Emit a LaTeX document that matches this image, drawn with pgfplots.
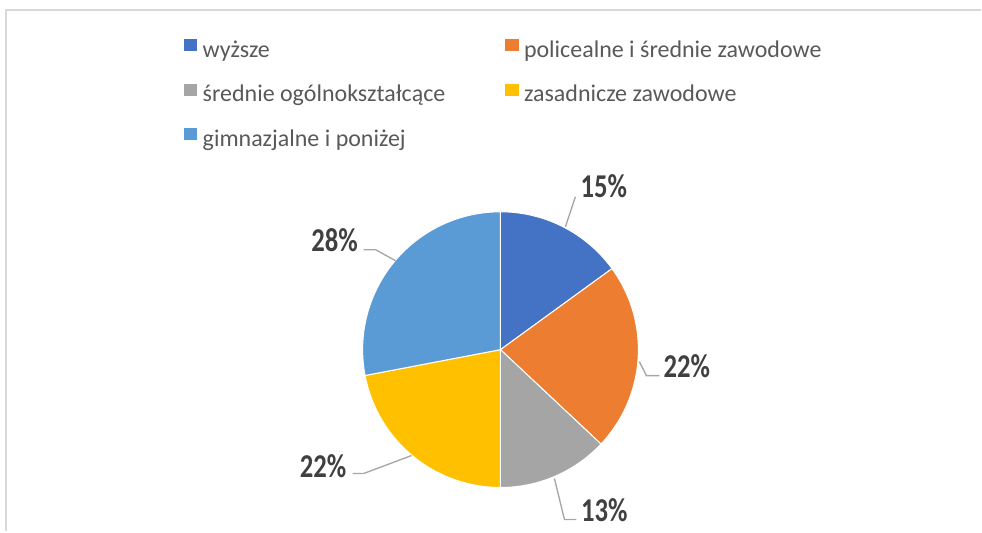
\documentclass[border=0pt]{standalone}
\usepackage{pgfplots}
\usepackage{pgfplotstable}
\pgfplotsset{compat=1.18}
\usepackage{fontspec}
\setmainfont{Carlito}

\definecolor{cWyz}{HTML}{4472C4}
\definecolor{cPol}{HTML}{ED7D31}
\definecolor{cSre}{HTML}{A5A5A5}
\definecolor{cZas}{HTML}{FFC000}
\definecolor{cGim}{HTML}{5B9BD5}
\definecolor{txtgray}{HTML}{595959}
\definecolor{lblgray}{HTML}{404040}
\definecolor{leader}{HTML}{A6A6A6}
\definecolor{framegray}{HTML}{D9D9D9}

% shares in percent, clockwise from 12 o'clock
\pgfplotstableread{
share
15
22
13
22
28
}\shares

\begin{document}
\begin{tikzpicture}
\pgfplotstablegetelem{0}{share}\of\shares \let\sA\pgfplotsretval
\pgfplotstablegetelem{1}{share}\of\shares \let\sB\pgfplotsretval
\pgfplotstablegetelem{2}{share}\of\shares \let\sC\pgfplotsretval
\pgfplotstablegetelem{3}{share}\of\shares \let\sD\pgfplotsretval
\pgfplotstablegetelem{4}{share}\of\shares \let\sE\pgfplotsretval
\pgfmathsetmacro\aA{90}
\pgfmathsetmacro\aB{\aA-3.6*\sA}
\pgfmathsetmacro\aC{\aB-3.6*\sB}
\pgfmathsetmacro\aD{\aC-3.6*\sC}
\pgfmathsetmacro\aE{\aD-3.6*\sD}
\pgfmathsetmacro\aF{\aE-3.6*\sE}
\def\cx{501}\def\cy{182}\def\r{138}
\begin{axis}[
    x=0.75pt, y=0.75pt,
    xmin=0, xmax=982, ymin=0, ymax=532,
    hide axis, clip=false,
    /pgf/number format/assume math mode=true,
    legend columns=2,
    legend image code/.code={\fill[#1,draw=none] (0pt,0pt) rectangle (10pt,9pt);},
    legend style={at={(axis cs:184,493)}, anchor=north west, draw=none, fill=none,
        inner sep=0pt, row sep=16pt,
        font=\fontsize{18}{20}\selectfont, text=txtgray,
        nodes={inner sep=0pt, text height=13pt, text depth=4pt},
        /tikz/every odd column/.append style={column sep=4pt},
        /tikz/every even column/.append style={column sep=45pt}},
    legend cell align=left,
    every axis plot/.append style={draw=white, line width=0.75pt, samples=80, variable=\t},
]
\path (axis cs:0,0) rectangle (axis cs:982,532);
\draw[framegray, line width=1.5pt] (axis cs:6.5,0) -- (axis cs:6.5,521.5) -- (axis cs:982,521.5);

\addplot[fill=cWyz, domain=\aB:\aA] ({\cx+\r*cos(\t)},{\cy+\r*sin(\t)}) -- (axis cs:\cx,\cy) -- cycle;
\addlegendentry{wyższe}
\addplot[fill=cPol, domain=\aC:\aB] ({\cx+\r*cos(\t)},{\cy+\r*sin(\t)}) -- (axis cs:\cx,\cy) -- cycle;
\addlegendentry{policealne i średnie zawodowe}
\addplot[fill=cSre, domain=\aD:\aC] ({\cx+\r*cos(\t)},{\cy+\r*sin(\t)}) -- (axis cs:\cx,\cy) -- cycle;
\addlegendentry{średnie ogólnokształcące}
\addplot[fill=cZas, domain=\aE:\aD] ({\cx+\r*cos(\t)},{\cy+\r*sin(\t)}) -- (axis cs:\cx,\cy) -- cycle;
\addlegendentry{zasadnicze zawodowe}
\addplot[fill=cGim, domain=\aF:\aE] ({\cx+\r*cos(\t)},{\cy+\r*sin(\t)}) -- (axis cs:\cx,\cy) -- cycle;
\addlegendentry{gimnazjalne i poniżej}

% leader lines
\draw[leader, line width=1pt] (axis cs:566,305) -- (axis cs:576,335);
\draw[leader, line width=1pt] (axis cs:640,170) -- (axis cs:647,156) -- (axis cs:660,156);
\draw[leader, line width=1pt] (axis cs:555,53) -- (axis cs:565,12) -- (axis cs:577,12);
\draw[leader, line width=1pt] (axis cs:412,76) -- (axis cs:364,58) -- (axis cs:353,58);
\draw[leader, line width=1pt] (axis cs:396,271) -- (axis cs:376,282) -- (axis cs:364,282);

% data labels
\tikzset{pct/.style={text=lblgray, inner sep=0pt, font=\fontsize{20}{22}\selectfont\bfseries}}
\node[pct] at (axis cs:604.5,346) {\scalebox{1}[1.25]{\pgfmathprintnumber{\sA}\%}};
\node[pct] at (axis cs:687.5,165) {\scalebox{1}[1.25]{\pgfmathprintnumber{\sB}\%}};
\node[pct] at (axis cs:605,21) {\scalebox{1}[1.25]{\pgfmathprintnumber{\sC}\%}};
\node[pct] at (axis cs:323.5,65.5) {\scalebox{1}[1.25]{\pgfmathprintnumber{\sD}\%}};
\node[pct] at (axis cs:335,291.5) {\scalebox{1}[1.25]{\pgfmathprintnumber{\sE}\%}};
\end{axis}
\end{tikzpicture}
\end{document}
